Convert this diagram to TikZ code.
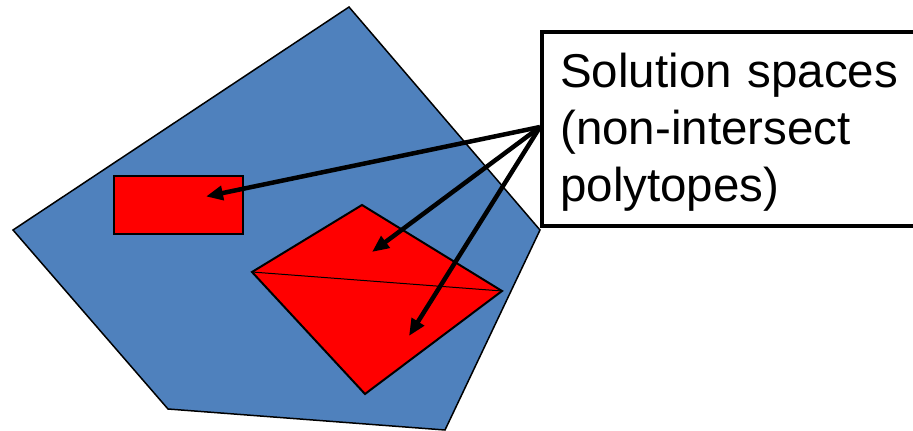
\documentclass[tikz,border=0pt]{standalone}
\usepackage{fontspec}
\setmainfont{Liberation Sans}
\usetikzlibrary{arrows.meta}
\definecolor{polyblue}{HTML}{4F81BD}
\definecolor{solred}{HTML}{FF0000}
\tikzset{
  outerpoly/.style={fill=polyblue, draw=black, line width=1.5pt, line join=miter},
  solpoly/.style={fill=solred, draw=black, line width=2pt, line join=miter},
  diagline/.style={draw=black, line width=1pt},
  calloutbox/.style={draw=black, fill=white, line width=4pt, anchor=north west,
    minimum width=420pt, minimum height=194pt, inner sep=0pt},
  callouttext/.style={anchor=north west, inner sep=0pt, align=left, text width=360pt,
    font=\fontsize{47.5}{57}\selectfont},
  pointer/.style={draw=black, line width=4.5pt, -{Triangle[length=17pt,width=14pt]}}
}
\begin{document}
\begin{tikzpicture}[x=1pt, y=-1pt]
\useasboundingbox (0,0) rectangle (913,431);
\clip (0,0) rectangle (913,431);
% outer polytope
\coordinate (pt) at (349,7);
\coordinate (pr) at (540,230);
\coordinate (pbr) at (445,430);
\coordinate (pbl) at (168,409);
\coordinate (pl) at (13,230);
\path[outerpoly] (pt) -- (pr) -- (pbr) -- (pbl) -- (pl) -- cycle;
% red rectangle
\coordinate (ra) at (114,176);
\coordinate (rb) at (243,234);
\path[solpoly] (ra) rectangle (rb);
% red diamond
\coordinate (dt) at (362,205);
\coordinate (dr) at (502,291);
\coordinate (db) at (365,394);
\coordinate (dl) at (252,272);
\path[solpoly] (dt) -- (dr) -- (db) -- (dl) -- cycle;
\draw[diagline] (dl) -- (dr);
% callout
\node[calloutbox] (box) at (540,30) {};
\node[callouttext] (txt) at (560,52.4) {Solution spaces\\(non-intersect\\polytopes)};
% arrows
\coordinate (src) at (540,127);
\coordinate (t1) at (206,196.5);
\coordinate (t2) at (372,252);
\coordinate (t3) at (409,336);
\draw[pointer] (src) -- (t1);
\draw[pointer] (src) -- (t2);
\draw[pointer] (src) -- (t3);
\end{tikzpicture}
\end{document}
